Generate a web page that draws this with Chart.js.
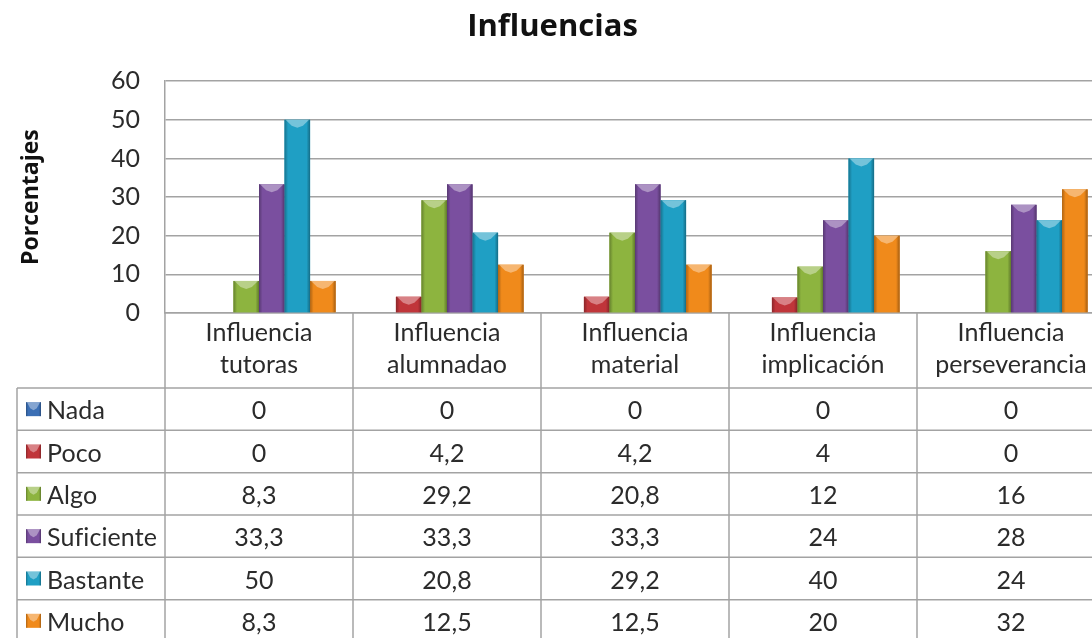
<!DOCTYPE html>
<html>
<head>
<meta charset="utf-8">
<script src="https://cdn.jsdelivr.net/npm/chart.js@4/dist/chart.umd.min.js"></script>
<style>
  html, body { margin: 0; padding: 0; background: #ffffff; overflow: hidden; }
  #wrap { width: 1110px; height: 645px; }
</style>
</head>
<body>
<div id="wrap"><canvas id="c" width="1110" height="645"></canvas></div>
<script>
const categories = [
  ['Influencia', 'tutoras'],
  ['Influencia', 'alumnadao'],
  ['Influencia', 'material'],
  ['Influencia', 'implicación'],
  ['Influencia', 'perseverancia']
];
const seriesNames = ['Nada', 'Poco', 'Algo', 'Suficiente', 'Bastante', 'Mucho'];
const nada       = [0, 0, 0, 0, 0];
const poco       = [0, 4.2, 4.2, 4, 0];
const algo       = [8.3, 29.2, 20.8, 12, 16];
const suficiente = [33.3, 33.3, 33.3, 24, 28];
const bastante   = [50, 20.8, 29.2, 40, 24];
const mucho      = [8.3, 12.5, 12.5, 20, 32];
const yTicks     = [0, 10, 20, 30, 40, 50, 60];
const seriesColors = ['#3b6fb5', '#c0353a', '#8db43f', '#7a4f9f', '#1f9fc4', '#f08a1b'];

const seriesValues = [nada, poco, algo, suficiente, bastante, mucho];
const FONT = 'Lato, "Open Sans", "DejaVu Sans", sans-serif';
const BOLD_FONT = '"Open Sans", "DejaVu Sans", sans-serif';
const TEXT = '#2b2b2b';
const LINE = '#a3a3a3';

function fmt(v) { return String(v).replace('.', ','); }

function drawBevel(ctx, l, t, w, h, color) {
  ctx.save();
  ctx.fillStyle = color;
  ctx.fillRect(l, t, w, h);
  const g = ctx.createLinearGradient(l, 0, l + w, 0);
  g.addColorStop(0, 'rgba(0,0,0,0.28)');
  g.addColorStop(0.14, 'rgba(0,0,0,0)');
  g.addColorStop(0.86, 'rgba(0,0,0,0)');
  g.addColorStop(1, 'rgba(0,0,0,0.32)');
  ctx.fillStyle = g;
  ctx.fillRect(l, t, w, h);
  const d = Math.min(8, h * 0.6);
  ctx.beginPath();
  ctx.moveTo(l + 1, t);
  ctx.lineTo(l + w - 1, t);
  ctx.lineTo(l + w * 0.72, t + d * 0.75);
  ctx.lineTo(l + w / 2, t + d);
  ctx.lineTo(l + w * 0.28, t + d * 0.75);
  ctx.closePath();
  ctx.fillStyle = 'rgba(255,255,255,0.38)';
  ctx.fill();
  ctx.restore();
}

const bevelPlugin = {
  id: 'bevel',
  afterDatasetsDraw(chart) {
    const ctx = chart.ctx;
    chart.data.datasets.forEach((ds, di) => {
      const meta = chart.getDatasetMeta(di);
      meta.data.forEach(el => {
        const p = el.getProps(['x', 'y', 'base', 'width'], true);
        const h = p.base - p.y;
        if (h < 1) return;
        drawBevel(ctx, p.x - p.width / 2, p.y, p.width, h, ds.backgroundColor);
      });
    });
  }
};

const tablePlugin = {
  id: 'dataTable',
  afterDraw(chart) {
    const ctx = chart.ctx;
    const xs = chart.scales.x;
    const ca = chart.chartArea;
    const n = categories.length;
    const cw = (xs.right - xs.left) / n;
    const headerBottom = xs.bottom;
    const tableLeft = 17;
    const rowH = (chart.height - 3 - headerBottom) / seriesNames.length;
    const tableBottom = headerBottom + rowH * seriesNames.length;
    ctx.save();
    ctx.strokeStyle = LINE;
    ctx.lineWidth = 1.5;
    for (let r = 0; r <= seriesNames.length; r++) {
      const y = headerBottom + r * rowH;
      ctx.beginPath();
      ctx.moveTo(tableLeft, y);
      ctx.lineTo(xs.right, y);
      ctx.stroke();
    }
    ctx.beginPath();
    ctx.moveTo(tableLeft, headerBottom);
    ctx.lineTo(tableLeft, tableBottom);
    ctx.stroke();
    ctx.beginPath();
    ctx.moveTo(xs.left, ca.bottom);
    ctx.lineTo(xs.left, tableBottom);
    ctx.stroke();
    for (let i = 1; i <= n; i++) {
      const x = xs.left + i * cw;
      ctx.beginPath();
      ctx.moveTo(x, ca.bottom);
      ctx.lineTo(x, tableBottom);
      ctx.stroke();
    }
    ctx.font = '25px ' + FONT;
    try { ctx.letterSpacing = '0.1px'; } catch (e) {}
    ctx.textBaseline = 'middle';
    seriesNames.forEach((name, r) => {
      const cy = headerBottom + r * rowH + rowH / 2;
      drawBevel(ctx, 26, cy - 7, 15, 14, seriesColors[r]);
      ctx.fillStyle = TEXT;
      ctx.textAlign = 'left';
      ctx.fillText(name, 47, cy + 2);
      ctx.textAlign = 'center';
      seriesValues[r].forEach((v, i) => {
        ctx.fillText(fmt(v), xs.getPixelForValue(i), cy + 2);
      });
    });
    ctx.restore();
  }
};

const datasets = seriesNames.map((name, i) => ({
  label: name,
  data: seriesValues[i],
  backgroundColor: seriesColors[i],
  borderWidth: 0,
  categoryPercentage: 0.815,
  barPercentage: 1.0
}));

new Chart(document.getElementById('c'), {
  type: 'bar',
  data: { labels: categories, datasets },
  options: {
    responsive: false,
    animation: false,
    layout: { padding: { left: 0, right: 5, top: 0, bottom: 257 } },
    plugins: {
      legend: { display: false },
      tooltip: { enabled: false },
      title: {
        display: true,
        text: 'Influencias',
        color: '#111111',
        font: { family: BOLD_FONT, size: 31, weight: 'bold' },
        padding: { top: 9, bottom: 35 }
      }
    },
    scales: {
      x: {
        grid: { display: false, drawTicks: false },
        border: { display: true, color: LINE, width: 1.5 },
        ticks: {
          color: TEXT,
          padding: 4,
          maxRotation: 0,
          autoSkip: false,
          font: { family: FONT, size: 25, lineHeight: '32px' }
        },
        afterFit(scale) { scale.height = 75; }
      },
      y: {
        min: 0,
        max: 60,
        afterBuildTicks(scale) { scale.ticks = yTicks.map(v => ({ value: v })); },
        grid: { color: LINE, lineWidth: 1.5, drawTicks: false },
        border: { display: true, color: LINE, width: 1.5 },
        ticks: {
          color: TEXT,
          padding: 25,
          font: { family: FONT, size: 25 }
        },
        title: {
          display: true,
          text: 'Porcentajes',
          color: '#111111',
          font: { family: BOLD_FONT, size: 23, weight: 'bold' },
          padding: { top: 18, bottom: 0 }
        },
        afterFit(scale) { scale.width = 165; }
      }
    }
  },
  plugins: [bevelPlugin, tablePlugin]
});
</script>
</body>
</html>
